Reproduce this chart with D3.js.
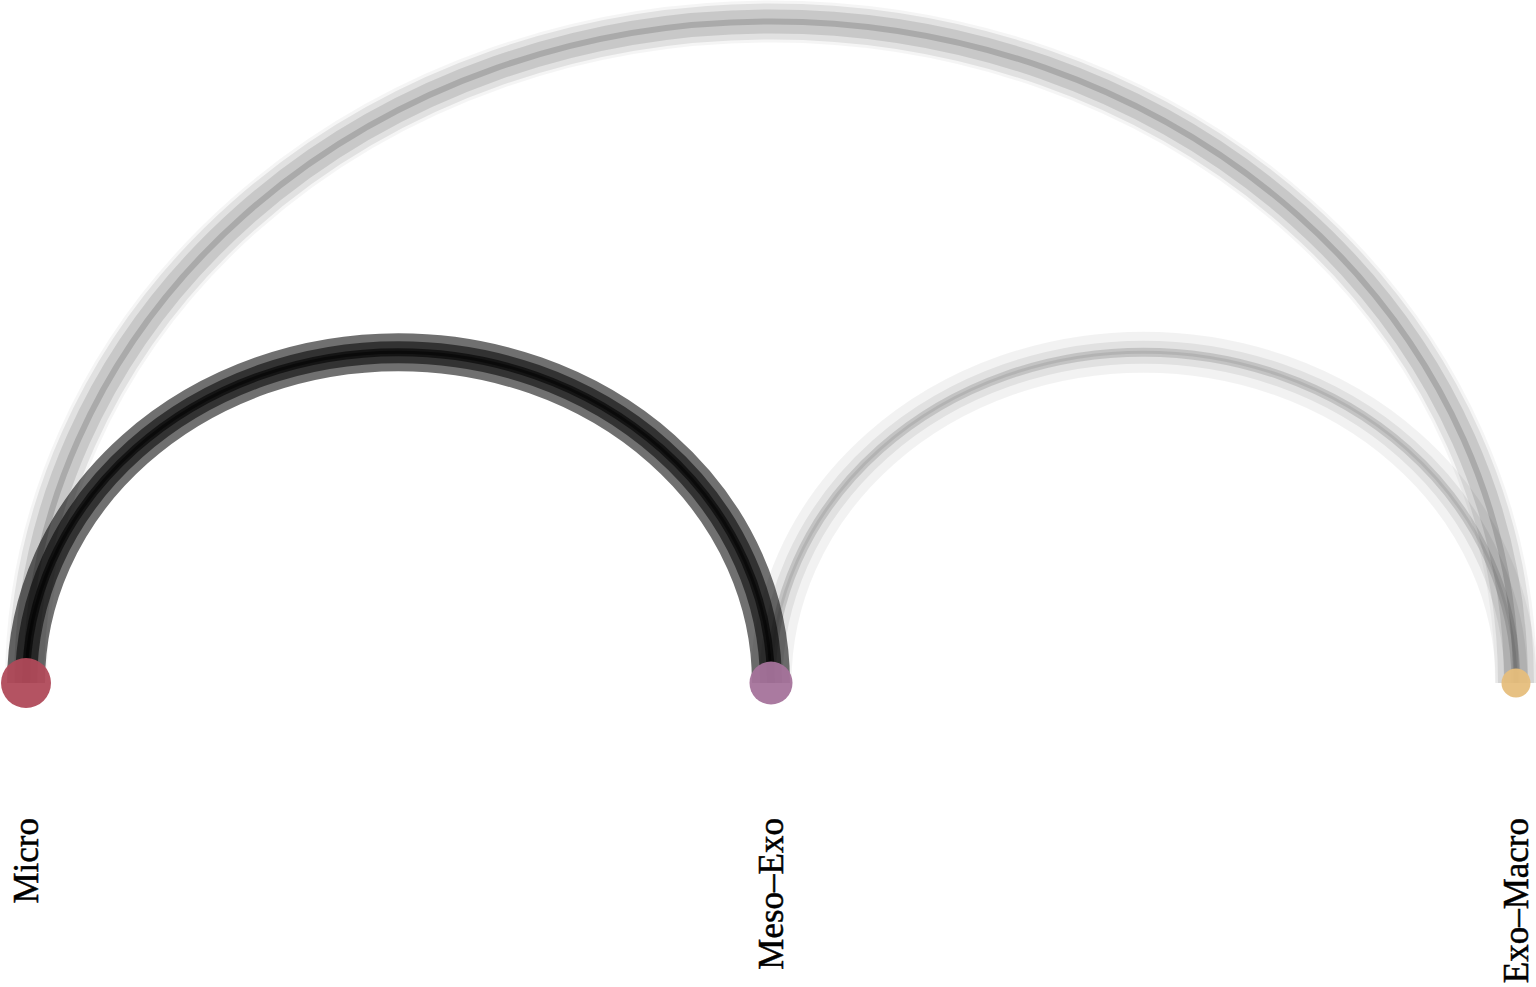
<!DOCTYPE html>
<html>
<head>
<meta charset="utf-8">
<script src="https://cdn.jsdelivr.net/npm/d3@7"></script>
<style>
html,body{margin:0;padding:0;background:#fff;}
svg{display:block;}
</style>
</head>
<body>
<svg id="chart" width="1536" height="987"></svg>
<script>
// ---- data ----
const nodeNames = ["Micro", "Meso\u2013Exo", "Exo\u2013Macro"];
const nodeSizes = [25, 21.5, 14.5];
const nodeColors = ["#b04a5a", "#a5739b", "#e6be7c"];

const linkSource = ["Micro","Micro","Micro","Micro", "Micro","Micro","Micro","Micro", "Meso\u2013Exo","Meso\u2013Exo","Meso\u2013Exo","Meso\u2013Exo"];
const linkTarget = ["Meso\u2013Exo","Meso\u2013Exo","Meso\u2013Exo","Meso\u2013Exo", "Exo\u2013Macro","Exo\u2013Macro","Exo\u2013Macro","Exo\u2013Macro", "Exo\u2013Macro","Exo\u2013Macro","Exo\u2013Macro","Exo\u2013Macro"];
const linkWeight = [38, 22, 8, 3,  42, 36, 24, 6,  41, 23, 9, 3];
const linkStrength = [0.56, 0.55, 0.6, 0.5,  0.04, 0.08, 0.11, 0.15,  0.05, 0.066, 0.13, 0.08];

// ---- chart ----
const svg = d3.select("#chart");
const baseY = 683;
const x = d3.scalePoint().domain(nodeNames).range([26, 1516]);
const w = d3.scaleLinear().domain([0, 42]).range([0, 42]);
const op = d3.scaleLinear().domain([0, 1]).range([0, 1]);

const links = linkSource.map((s, i) => ({s, t: linkTarget[i], v: linkWeight[i], o: linkStrength[i]}));

function arcPath(d) {
  const x1 = x(d.s), x2 = x(d.t);
  const rx = (x2 - x1) / 2, ry = rx * 0.888;
  return `M${x1},${baseY} A${rx},${ry} 0 0 1 ${x2},${baseY}`;
}

svg.append("g").selectAll("path").data(links).join("path")
  .attr("d", arcPath)
  .attr("fill", "none")
  .attr("stroke", "#000")
  .attr("stroke-width", d => w(d.v))
  .attr("stroke-opacity", d => op(d.o));

svg.append("g").selectAll("circle").data(nodeNames).join("circle")
  .attr("cx", d => x(d))
  .attr("cy", baseY)
  .attr("r", (d, i) => nodeSizes[i])
  .attr("fill", (d, i) => nodeColors[i])
  .attr("fill-opacity", 0.95);

svg.append("g").selectAll("text").data(nodeNames).join("text")
  .attr("transform", d => `translate(${x(d)},818) rotate(-90)`)
  .attr("text-anchor", "end")
  .attr("dy", "0.35em")
  .attr("font-family", "'Liberation Serif', 'DejaVu Serif', serif")
  .attr("font-size", 35)
  .attr("fill", "#000")
  .attr("stroke", "#000")
  .attr("stroke-width", 0.5)
  .text(d => d);
</script>
</body>
</html>
